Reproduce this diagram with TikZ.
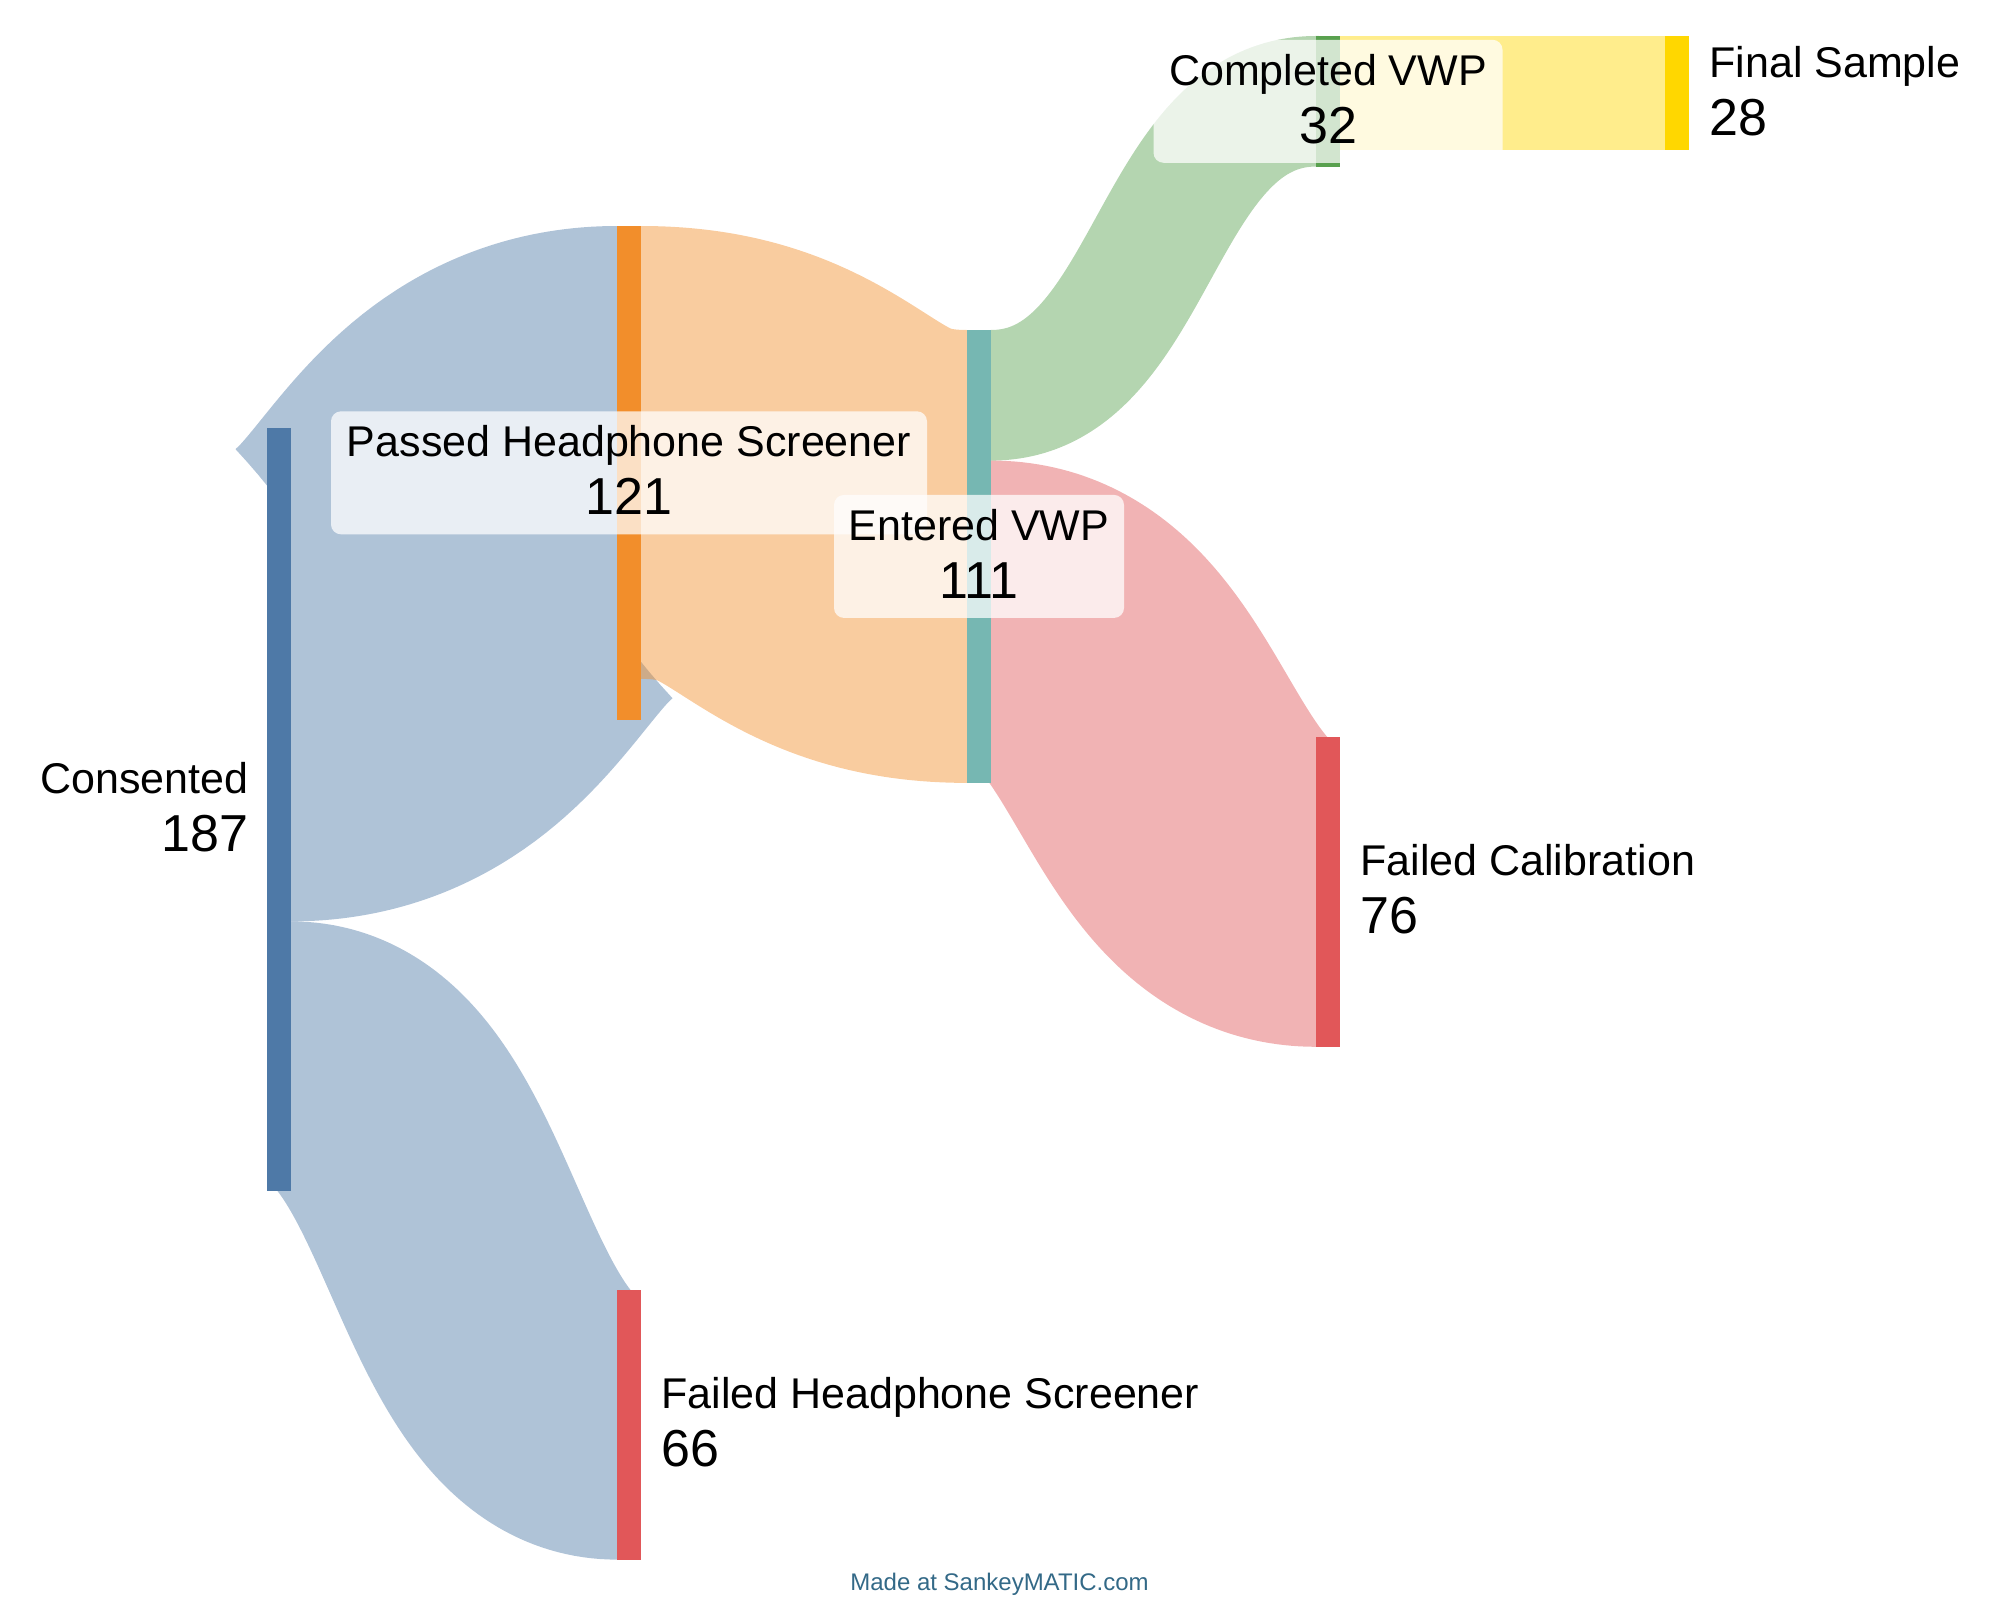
\documentclass[tikz,border=0pt]{standalone}
\usepackage{fontspec}
\setmainfont{Liberation Sans}
\usetikzlibrary{calc}
\pgfdeclarelayer{flows}
\pgfsetlayers{flows,main}
\definecolor{cblue}{HTML}{4E79A7}
\definecolor{corange}{HTML}{F28E2B}
\definecolor{cred}{HTML}{E15759}
\definecolor{cteal}{HTML}{76B7B2}
\definecolor{cgreen}{HTML}{59A14F}
\definecolor{cgold}{HTML}{FFD700}
\definecolor{cmark}{RGB}{51,105,135}
\newcommand{\namefont}{\fontsize{21.5pt}{25pt}\selectfont}
\newcommand{\numfont}{\fontsize{26pt}{30pt}\selectfont}

\begin{document}
\begin{tikzpicture}[x=0.5pt,y=-0.5pt]
	\tikzset{bar/.style={fill=#1,draw=none,inner sep=0pt,outer sep=0pt,minimum width=12pt,anchor=north west}}
	\tikzset{flow/.style args={#1/#2}{draw=#1,draw opacity=0.45,line width=#2*2.04pt}}
	\tikzset{nametext/.style={font=\namefont,inner sep=0pt}}
	\tikzset{numtext/.style={font=\numfont,inner sep=0pt}}
	\tikzset{labelbox/.style={fill=white,fill opacity=0.73,draw=none,rounded corners=5pt,minimum height=61.5pt,inner sep=0pt}}
	\useasboundingbox (0,0) rectangle (2000,1600);
	% bars
	\node[bar=cblue,minimum height=187*2.04pt] (cons) at (267,427.7) {};
	\node[bar=corange,minimum height=121*2.04pt] (pass) at (617,226) {};
	\node[bar=cred,minimum height=66*2.04pt] (failhs) at (617,1290.3) {};
	\node[bar=cteal,minimum height=111*2.04pt] (ent) at (967,330) {};
	\node[bar=cgreen,minimum height=32*2.04pt] (comp) at (1316,36) {};
	\node[bar=cred,minimum height=76*2.04pt] (failcal) at (1316,736.7) {};
	\node[bar=cgold,minimum height=28*2.04pt] (final) at (1665,36) {};
	% flows (a short straight piece tucked under each bar)
	\begin{pgfonlayer}{flows}
		\draw[flow=cblue/121] ($(cons.north east)+(-3,60.5*4.08)$) -- ++(3,0) .. controls +(163,0) and +(-163,0) .. ($(pass.north west)+(0,60.5*4.08)$) -- ++(3,0);
		\draw[flow=cblue/66] ($(cons.north east)+(-3,154*4.08)$) -- ++(3,0) .. controls +(163,0) and +(-163,0) .. ($(failhs.north west)+(0,33*4.08)$) -- ++(3,0);
		\draw[flow=corange/111] ($(pass.north east)+(-3,55.5*4.08)$) -- ++(3,0) .. controls +(163,0) and +(-163,0) .. ($(ent.north west)+(0,55.5*4.08)$) -- ++(3,0);
		\draw[flow=cgreen/32] ($(ent.north east)+(-3,16*4.08)$) -- ++(3,0) .. controls +(163,0) and +(-163,0) .. ($(comp.north west)+(0,16*4.08)$) -- ++(3,0);
		\draw[flow=cred/76] ($(ent.north east)+(-3,70*4.08)$) -- ++(3,0) .. controls +(163,0) and +(-163,0) .. ($(failcal.north west)+(0,38*4.08)$) -- ++(3,0);
		\draw[flow=cgold/28] ($(comp.north east)+(-3,14*4.08)$) -- ++(3,0) .. controls +(163,0) and +(-163,0) .. ($(final.north west)+(0,14*4.08)$) -- ++(3,0);
	\end{pgfonlayer}
	% label boxes
	\node[labelbox,minimum width=298pt] (passbox) at (pass.center) {};
	\node[labelbox,minimum width=145pt] (entbox) at (ent.center) {};
	\node[labelbox,minimum width=174.5pt] (compbox) at (comp.center) {};
	% labels
	\node[nametext,anchor=base east] (consname) at ($(cons.west)+(-18,-16)$) {Consented};
	\node[numtext,anchor=base east] (consval) at ($(cons.west)+(-18,42)$) {187};
	\node[nametext,anchor=base] (passname) at ($(pass.center)+(0,-16)$) {Passed Headphone Screener};
	\node[numtext,anchor=base] (passval) at ($(pass.center)+(0,42)$) {121};
	\node[nametext,anchor=base west] (failhsname) at ($(failhs.east)+(20,-16)$) {Failed Headphone Screener};
	\node[numtext,anchor=base west] (failhsval) at ($(failhs.east)+(20,42)$) {66};
	\node[nametext,anchor=base] (entname) at ($(ent.center)+(0,-16)$) {Entered VWP};
	\node[numtext,anchor=base] (entval) at ($(ent.center)+(0,42)$) {111};
	\node[nametext,anchor=base] (compname) at ($(comp.center)+(0,-16)$) {Completed VWP};
	\node[numtext,anchor=base] (compval) at ($(comp.center)+(0,42)$) {32};
	\node[nametext,anchor=base west] (failcalname) at ($(failcal.east)+(20,-16)$) {Failed Calibration};
	\node[numtext,anchor=base west] (failcalval) at ($(failcal.east)+(20,42)$) {76};
	\node[nametext,anchor=base west] (finalname) at ($(final.east)+(20,-16)$) {Final Sample};
	\node[numtext,anchor=base west] (finalval) at ($(final.east)+(20,42)$) {28};
	\node[font=\fontsize{12pt}{14pt}\selectfont,text=cmark,inner sep=0pt,anchor=base] (credit) at (999.5,1590) {Made at SankeyMATIC.com};
\end{tikzpicture}
\end{document}
